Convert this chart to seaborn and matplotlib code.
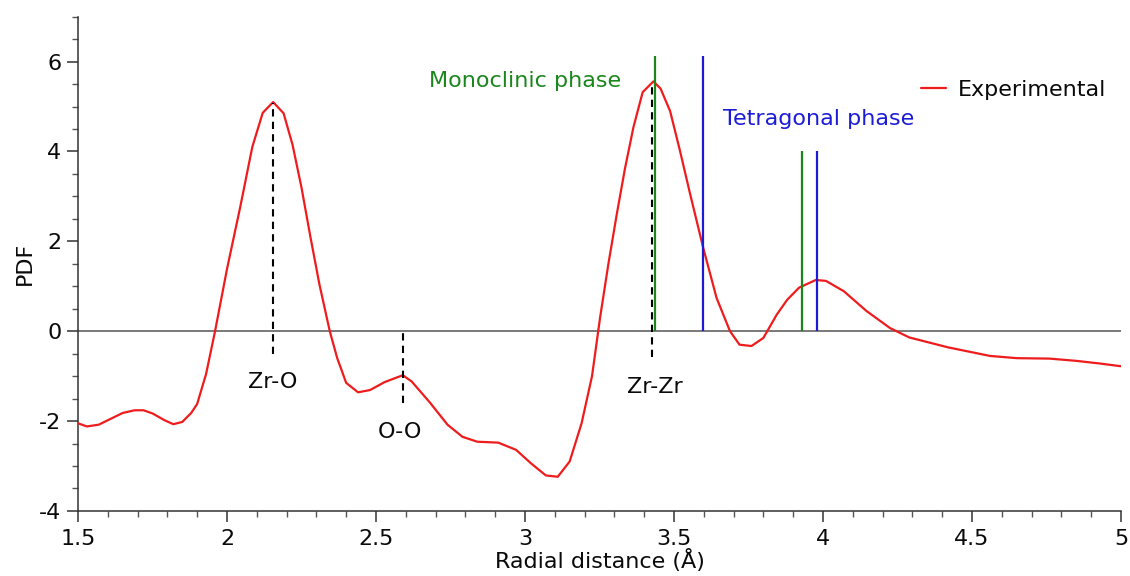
import numpy as np
import pandas as pd
import matplotlib
matplotlib.use("Agg")
import matplotlib.pyplot as plt
import seaborn as sns

# ---- data ----
r_values = [1.50, 1.53, 1.57, 1.61, 1.65, 1.69, 1.72, 1.75, 1.79, 1.82, 1.85, 1.88,
            1.90, 1.93, 1.96, 2.00, 2.045, 2.085, 2.12, 2.155, 2.19, 2.22, 2.25, 2.28,
            2.31, 2.345, 2.37, 2.40, 2.44, 2.48, 2.53, 2.59, 2.62, 2.68, 2.74, 2.79,
            2.84, 2.91, 2.97, 3.02, 3.07, 3.11, 3.15, 3.19, 3.225, 3.252, 3.28, 3.308,
            3.335, 3.364, 3.395, 3.431, 3.455, 3.487, 3.52, 3.554, 3.598, 3.643, 3.688,
            3.72, 3.76, 3.80, 3.845, 3.88, 3.92, 3.976, 4.01, 4.07, 4.146, 4.225, 4.29,
            4.42, 4.56, 4.65, 4.76, 4.85, 4.93, 5.00]
pdf_values = [-2.05, -2.12, -2.08, -1.95, -1.82, -1.76, -1.76, -1.83, -1.98, -2.07, -2.02, -1.82,
              -1.62, -0.95, 0.0, 1.38, 2.78, 4.10, 4.86, 5.10, 4.85, 4.15, 3.20, 2.10,
              1.05, 0.0, -0.60, -1.15, -1.36, -1.31, -1.13, -0.98, -1.12, -1.58, -2.08, -2.35,
              -2.46, -2.48, -2.64, -2.94, -3.21, -3.24, -2.90, -2.05, -1.00, 0.30, 1.50, 2.60,
              3.60, 4.54, 5.32, 5.56, 5.40, 4.90, 4.02, 3.06, 1.86, 0.74, 0.0,
              -0.30, -0.33, -0.15, 0.37, 0.70, 0.97, 1.14, 1.12, 0.89, 0.45, 0.07, -0.14,
              -0.36, -0.55, -0.60, -0.61, -0.66, -0.72, -0.78]

mono_x = [3.438, 3.928]
mono_h = [6.12, 4.0]
tetra_x = [3.598, 3.979]
tetra_h = [6.12, 4.0]

peak_names = ["Zr-O", "O-O", "Zr-Zr"]
peak_x = [2.155, 2.59, 3.427]
peak_top = [5.08, 0.0, 5.55]
peak_bottom = [-0.5, -1.6, -0.58]
label_x = [2.155, 2.58, 3.435]
label_y = [-1.12, -2.25, -1.25]

x_ticks = [1.5, 2, 2.5, 3, 3.5, 4, 4.5, 5]
x_ticklabels = ["1.5", "2", "2.5", "3", "3.5", "4", "4.5", "5"]
y_ticks = [-4, -2, 0, 2, 4, 6]
y_ticklabels = ["-4", "-2", "0", "2", "4", "6"]

df = pd.DataFrame({"r": r_values, "pdf": pdf_values})

sns.set_style("ticks")
plt.rcParams["font.family"] = ["DejaVu Sans"]

GREEN = "#1b861b"
BLUE = "#1c1cd8"
TXT = "#0a0a0a"
FS = 16

fig = plt.figure(figsize=(11.3, 5.76), dpi=100)
ax = fig.add_axes([0.069, 0.113, 0.923, 0.858])

ax.axhline(0, color="#555555", lw=1.1, zorder=1)

sns.lineplot(data=df, x="r", y="pdf", ax=ax, color="#ee1c1c", lw=1.6,
             label="Experimental", sort=False, zorder=3)

ax.vlines(mono_x, 0, mono_h, colors=GREEN, lw=1.6, zorder=4)
ax.vlines(tetra_x, 0, tetra_h, colors=BLUE, lw=1.6, zorder=4)

ax.vlines(peak_x, peak_bottom, peak_top, colors="black", lw=1.5,
          linestyles=(0, (3.5, 2.5)), zorder=5)
for name, lx, ly in zip(peak_names, label_x, label_y):
    ax.text(lx, ly, name, ha="center", va="center", fontsize=FS, color=TXT)

ax.text(3.0, 5.58, "Monoclinic phase", color=GREEN, fontsize=FS, ha="center", va="center")
ax.text(3.987, 4.73, "Tetragonal phase", color=BLUE, fontsize=FS, ha="center", va="center")

ax.set_xlim(1.5, 5)
ax.set_ylim(-4, 7)
ax.set_xticks(x_ticks)
ax.set_xticklabels(x_ticklabels)
ax.set_yticks(y_ticks)
ax.set_yticklabels(y_ticklabels)
ax.set_xticks(np.arange(1.5, 5.001, 0.1), minor=True)
ax.set_yticks(np.arange(-4, 7.001, 0.5), minor=True)
ax.tick_params(axis="both", which="major", labelsize=FS, length=8, width=1.1,
               color="#333333", labelcolor=TXT, direction="out")
ax.tick_params(axis="x", which="major", pad=5)
ax.tick_params(axis="y", which="major", pad=4)
ax.tick_params(axis="both", which="minor", length=4, width=1.0, color="#555555")

for s in ["top", "right"]:
    ax.spines[s].set_visible(False)
for s in ["left", "bottom"]:
    ax.spines[s].set_color("#333333")
    ax.spines[s].set_linewidth(1.1)

ax.set_xlabel("Radial distance (Å)", fontsize=FS, labelpad=0, color=TXT)
ax.set_ylabel("PDF", fontsize=FS, labelpad=3, color=TXT)

leg = ax.legend(loc="center right", bbox_to_anchor=(1.005, 0.852), frameon=False,
                fontsize=FS, handlelength=1.1, handletextpad=0.55)
for t in leg.get_texts():
    t.set_color(TXT)

fig.savefig("out.png", dpi=100)
